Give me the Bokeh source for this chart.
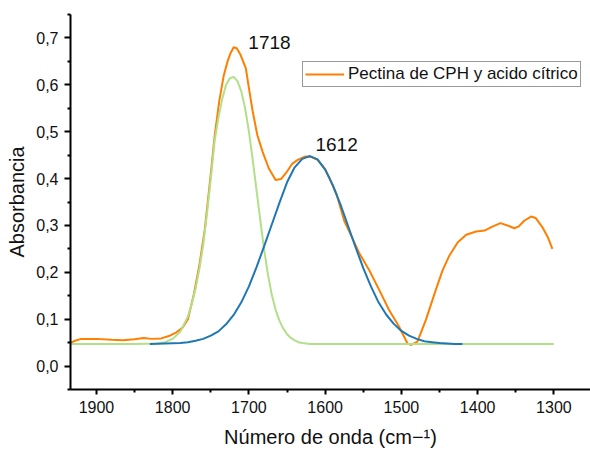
from bokeh.plotting import figure
from bokeh.models import (Range1d, FixedTicker, CustomJSTickFormatter, Label,
                          Legend, LegendItem)
from bokeh.embed import file_html
from bokeh.resources import INLINE

# ---- data ----
wn_spectrum = [1935, 1928, 1920, 1900, 1880, 1865, 1850, 1838, 1828, 1815, 1805,
               1795, 1787, 1780, 1772, 1765, 1758, 1750, 1745, 1739, 1733, 1728,
               1724, 1720, 1716, 1711, 1704, 1700, 1695, 1689, 1682, 1674, 1665,
               1658, 1650, 1643, 1636, 1626, 1618, 1610, 1600, 1594, 1585, 1575,
               1565, 1555, 1542, 1529, 1516, 1503, 1492, 1487, 1479, 1468, 1455,
               1446, 1437, 1426, 1415, 1402, 1391, 1380, 1370, 1361, 1352, 1346,
               1339, 1330, 1324, 1315, 1308, 1302]
abs_spectrum = [0.049, 0.054, 0.058, 0.058, 0.056, 0.055, 0.057, 0.060, 0.058, 0.059,
                0.064, 0.072, 0.082, 0.100, 0.155, 0.215, 0.290, 0.410, 0.490, 0.564,
                0.620, 0.650, 0.668, 0.680, 0.678, 0.664, 0.635, 0.593, 0.543, 0.493,
                0.457, 0.422, 0.397, 0.399, 0.415, 0.432, 0.440, 0.447, 0.446, 0.440,
                0.420, 0.400, 0.366, 0.310, 0.275, 0.240, 0.204, 0.162, 0.119, 0.084,
                0.048, 0.045, 0.052, 0.098, 0.162, 0.204, 0.236, 0.264, 0.280, 0.287,
                0.289, 0.298, 0.305, 0.300, 0.294, 0.298, 0.310, 0.319, 0.316, 0.296,
                0.275, 0.250]

wn_peak1718 = [1935, 1900, 1850, 1820, 1810, 1800, 1790, 1780, 1775, 1770, 1765,
               1760, 1755, 1750, 1745, 1740, 1735, 1730, 1725, 1720, 1715, 1710,
               1705, 1700, 1695, 1690, 1685, 1680, 1675, 1670, 1665, 1660, 1655,
               1650, 1645, 1640, 1635, 1630, 1620, 1600, 1500, 1400, 1300]
abs_peak1718 = [0.047, 0.047, 0.047, 0.048, 0.051, 0.058, 0.073, 0.106, 0.132, 0.165,
                0.207, 0.258, 0.325, 0.400, 0.480, 0.530, 0.570, 0.600, 0.614, 0.617,
                0.608, 0.586, 0.550, 0.500, 0.440, 0.375, 0.310, 0.248, 0.195, 0.152,
                0.120, 0.097, 0.080, 0.068, 0.060, 0.055, 0.051, 0.049, 0.047, 0.047,
                0.047, 0.047, 0.047]

wn_peak1612 = [1830, 1810, 1790, 1780, 1770, 1760, 1750, 1740, 1730, 1720, 1710,
               1700, 1690, 1680, 1670, 1660, 1650, 1640, 1630, 1620, 1610, 1600,
               1590, 1580, 1570, 1560, 1550, 1540, 1530, 1520, 1510, 1500, 1490,
               1480, 1470, 1460, 1450, 1440, 1430, 1420]
abs_peak1612 = [0.047, 0.048, 0.049, 0.051, 0.054, 0.058, 0.065, 0.074, 0.089, 0.109,
                0.136, 0.170, 0.211, 0.256, 0.302, 0.348, 0.392, 0.424, 0.442, 0.448,
                0.441, 0.419, 0.386, 0.345, 0.299, 0.253, 0.209, 0.170, 0.136, 0.110,
                0.090, 0.075, 0.065, 0.058, 0.053, 0.051, 0.049, 0.048, 0.047, 0.047]

x_ticks = [1900, 1800, 1700, 1600, 1500, 1400, 1300]
x_minor = [1950, 1850, 1750, 1650, 1550, 1450, 1350, 1250]
y_ticks = [0.0, 0.1, 0.2, 0.3, 0.4, 0.5, 0.6, 0.7]
y_minor = [-0.05, 0.05, 0.15, 0.25, 0.35, 0.45, 0.55, 0.65, 0.75]

series_name = "Pectina de CPH y acido cítrico"
x_title = "Número de onda (cm\u2212\u00b9)"
y_title = "Absorbancia"

FONT = "Liberation Sans"

p = figure(width=590, height=450, output_backend="svg", toolbar_location=None,
           x_range=Range1d(1934, 1252), y_range=Range1d(-0.05, 0.75),
           min_border_left=70, min_border_right=0, min_border_top=14,
           min_border_bottom=61)
p.xgrid.visible = False
p.ygrid.visible = False
p.outline_line_color = None
p.background_fill_color = "white"
p.border_fill_color = "white"

r_or = p.line(wn_spectrum, abs_spectrum, line_color="#FF7F00", line_width=2)
p.line(wn_peak1718, abs_peak1718, line_color="#B2DF8A", line_width=2)
p.line(wn_peak1612, abs_peak1612, line_color="#1F78B4", line_width=2)

for ax in (p.xaxis[0], p.yaxis[0]):
    ax.axis_line_width = 2
    ax.axis_line_color = "black"
    ax.major_tick_line_width = 2
    ax.minor_tick_line_width = 2
    ax.major_tick_in = 0
    ax.minor_tick_in = 0
    ax.major_label_text_font = FONT
    ax.major_label_text_font_size = "16px"
    ax.major_label_text_color = "#111111"
    ax.axis_label_text_font = FONT
    ax.axis_label_text_font_size = "20px"
    ax.axis_label_text_font_style = "normal"
    ax.axis_label_text_color = "#111111"

p.xaxis.ticker = FixedTicker(ticks=x_ticks, minor_ticks=x_minor)
p.xaxis.major_tick_out = 5
p.xaxis.minor_tick_out = 3
p.xaxis.major_label_standoff = 6
p.xaxis.axis_label = x_title
p.xaxis.axis_label_standoff = 10

p.yaxis.ticker = FixedTicker(ticks=y_ticks, minor_ticks=y_minor)
p.yaxis.formatter = CustomJSTickFormatter(code="return tick.toFixed(1).replace('.', ',');")
p.yaxis.major_tick_out = 6
p.yaxis.minor_tick_out = 3
p.yaxis.major_label_standoff = 6
p.yaxis.axis_label = y_title
p.yaxis.axis_label_standoff = 5

p.add_layout(Label(x=1673, y=0.691, text="1718", text_font=FONT,
                   text_font_size="19px", text_align="center",
                   text_baseline="middle", text_color="#111111"))
p.add_layout(Label(x=1585, y=0.473, text="1612", text_font=FONT,
                   text_font_size="19px", text_align="center",
                   text_baseline="middle", text_color="#111111"))

legend = Legend(items=[LegendItem(label=series_name, renderers=[r_or])],
                location=(232, 302), border_line_color="#333333",
                border_line_width=1, padding=2, margin=0, spacing=0,
                glyph_width=39, glyph_height=20, label_height=20,
                label_standoff=4, label_text_font=FONT,
                label_text_font_size="17px", label_text_color="#111111",
                background_fill_alpha=1.0)
p.add_layout(legend)

open("out.html", "w").write(file_html(p, INLINE))
